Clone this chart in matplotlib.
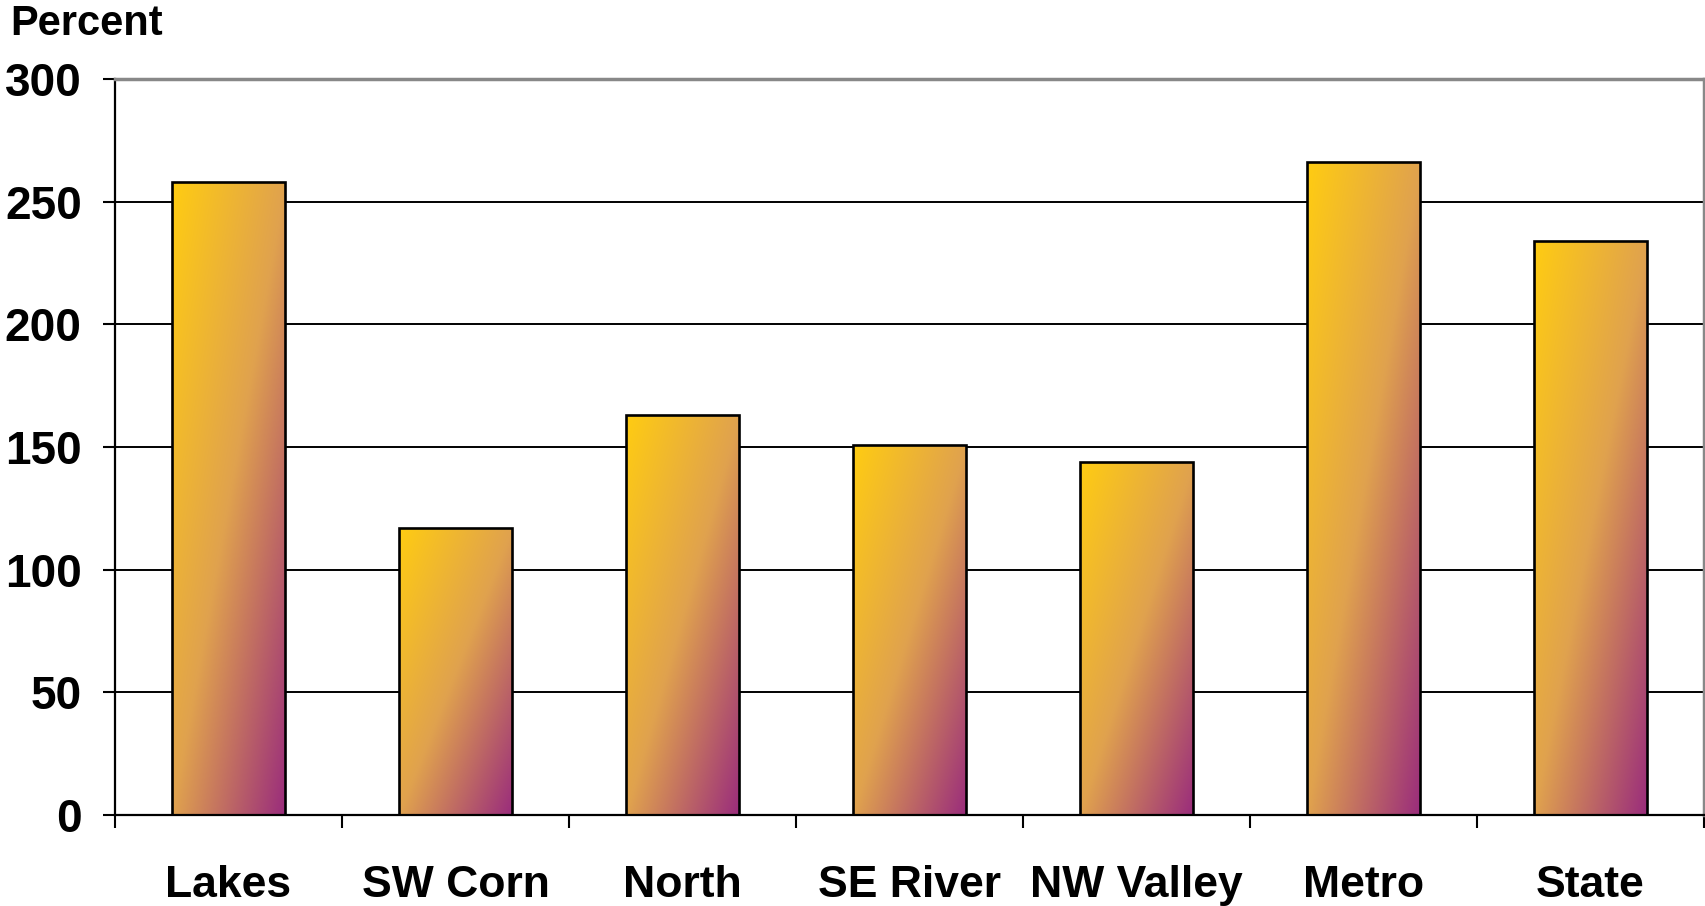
import matplotlib
matplotlib.use('Agg')
import matplotlib.pyplot as plt
import numpy as np
from matplotlib.colors import LinearSegmentedColormap

categories = ["Lakes", "SW Corn", "North", "SE River", "NW Valley", "Metro", "State"]
values = [258, 117, 163, 151, 144, 266, 234]
yticks = [0, 50, 100, 150, 200, 250, 300]

plt.rcParams['font.family'] = ['Liberation Sans', 'DejaVu Sans']
fig = plt.figure(figsize=(17.06, 9.06), dpi=100)
ax = fig.add_axes([115/1706, 91/906, 1589/1706, 736/906])

x = np.arange(len(categories))
bars = ax.bar(x, values, width=0.5, color='none', edgecolor='black',
              linewidth=1.9, zorder=3)

cmap = LinearSegmentedColormap.from_list('g', ['#FFCC12', '#E0A24E', '#9A2C7C'])
n = 200
xx, yy = np.meshgrid(np.linspace(0, 1, n), np.linspace(0, 1, n))
grad = 0.5 * (xx + yy)
for b in bars:
    x0, y0 = b.get_x(), b.get_y()
    w, h = b.get_width(), b.get_height()
    im = ax.imshow(grad, cmap=cmap, extent=[x0, x0 + w, y0, y0 + h],
                   origin='upper', aspect='auto', zorder=2.5,
                   interpolation='bilinear')
    im.set_clip_path(b)

ax.set_xlim(-0.5, len(categories) - 0.5)
ax.set_ylim(0, 300)
ax.set_yticks(yticks)
ax.set_yticklabels([str(v) for v in yticks], fontsize=33, fontweight='bold')
ax.set_xticks(np.arange(-0.5, len(categories), 1))
ax.set_xticklabels([])
ax.set_xticks(x, minor=True)
ax.set_xticklabels(categories, minor=True, fontsize=32, fontweight='bold')
ax.tick_params(axis='x', which='major', direction='out', length=9, width=1.5)
ax.tick_params(axis='x', which='minor', length=0, pad=36)
ax.tick_params(axis='y', direction='out', length=9, width=1.5, pad=15)

ax.set_axisbelow(True)
ax.yaxis.grid(True, color='black', linewidth=1.4)
for s in ['left', 'bottom']:
    ax.spines[s].set_color('black')
    ax.spines[s].set_linewidth(1.6)
for s in ['top', 'right']:
    ax.spines[s].set_color('#888888')
    ax.spines[s].set_linewidth(2.5)

fig.text(10/1706, 1 - 24/906, 'Percent', fontsize=30, fontweight='bold',
         va='center', ha='left')

fig.savefig('out.png', dpi=100)
